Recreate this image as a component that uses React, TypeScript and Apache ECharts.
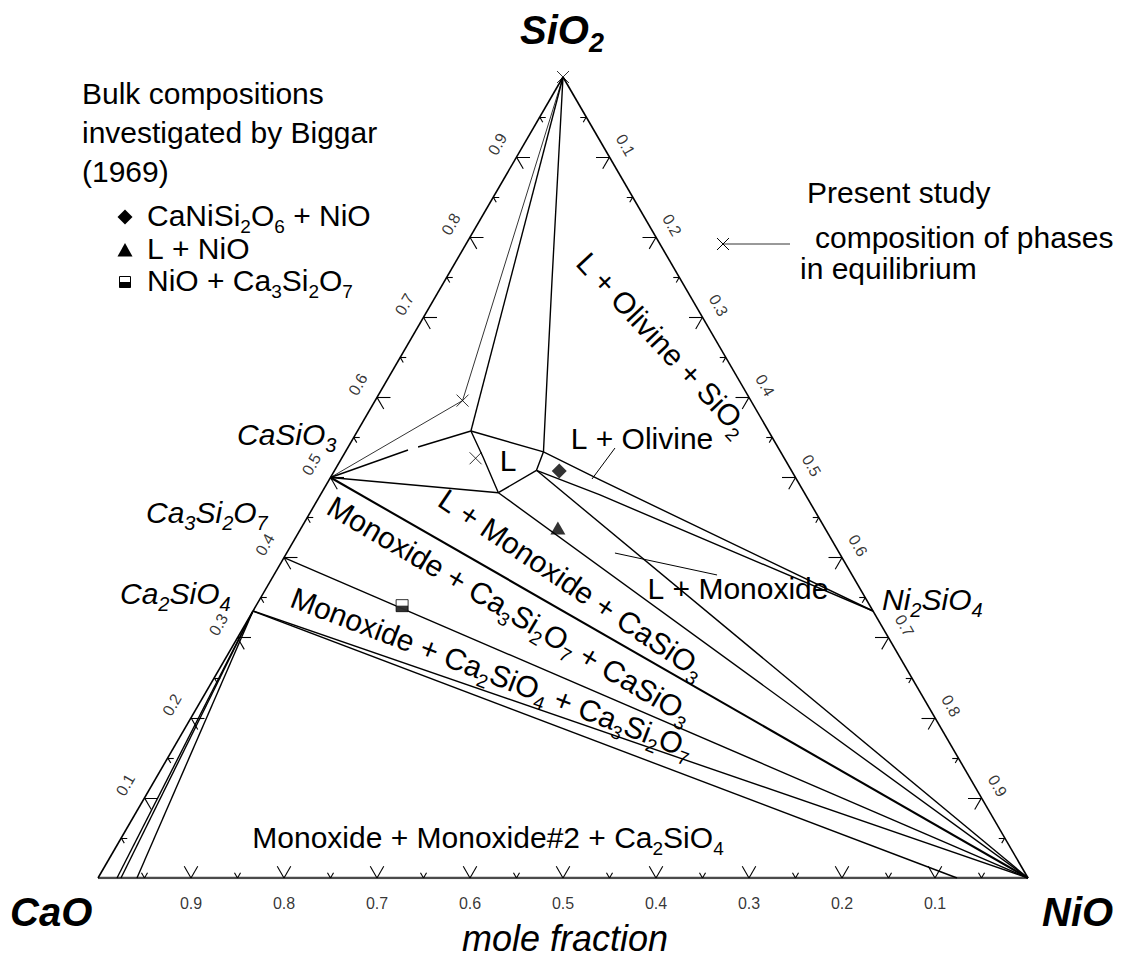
import React, { useEffect, useRef } from "react";
import * as echarts from "echarts";

type Comp = [number, number]; // [x(SiO2), x(NiO)] ; x(CaO) = 1 - x(SiO2) - x(NiO)

// ---------- end members / compounds ----------
const SIO2: Comp = [1, 0];
const CAO: Comp = [0, 0];
const NIO: Comp = [0, 1];
const CASIO3: Comp = [0.5, 0];
const CA3SI2O7: Comp = [0.4, 0];
const CA2SIO4: Comp = [1 / 3, 0];
const NI2SIO4: Comp = [1 / 3, 2 / 3];

// ---------- liquid field corners ----------
const LIQ_A: Comp = [0.558, 0.122];
const LIQ_C: Comp = [0.532, 0.213];
const LIQ_B: Comp = [0.509, 0.217];
const LIQ_D: Comp = [0.481, 0.19];

// ---------- measured phase compositions (present study, x) ----------
const measured: Comp[] = [SIO2, [0.596, 0.094], [0.524, 0.144]];

// ---------- Biggar (1969) bulk compositions ----------
const biggarDiamond: Comp[] = [[0.508, 0.242]];
const biggarTriangle: Comp[] = [[0.437, 0.276]];
const biggarSquare: Comp[] = [[0.34, 0.157]];

// ---------- phase boundaries / tie lines ----------
const thinTieLines: Comp[][] = [[SIO2, measured[1], CASIO3]];
const boundaryLines: Comp[][] = [
  [SIO2, LIQ_A],
  [SIO2, [0.7466, 0.1149], [0.6217, 0.1719], LIQ_C, LIQ_B],
  [LIQ_A, LIQ_C, [0.4969, 0.2914], NI2SIO4],
  [LIQ_B, [0.4782, 0.3007], NI2SIO4],
  [LIQ_B, NIO],
  [LIQ_D, NIO],
  [LIQ_A, [0.5256, 0.1512], LIQ_D],
  [LIQ_B, LIQ_D],
  [CASIO3, [0.5343, 0.0662]],
  [[0.5381, 0.0751], LIQ_A],
  [CASIO3, LIQ_D],
  [CA3SI2O7, NIO],
  [CA2SIO4, NIO],
  [CA2SIO4, [0, 0.9237]],
  [CA2SIO4, [0, 0.0204]],
  [CA2SIO4, [0, 0.0247]],
  [CA2SIO4, [0, 0.0419]],
];
const heavyLines: Comp[][] = [[CASIO3, NIO]];
const pointerLines: Comp[][] = [
  [[0.5368, 0.2875], [0.4981, 0.2821]],
  [[0.4057, 0.353], [0.3783, 0.4765]],
];
const sideEdges: Comp[][] = [[CAO, SIO2], [SIO2, NIO]];
const baseEdge: Comp[][] = [[CAO, NIO]];

// ---------- axis ticks ----------
const tickValues = [0.05, 0.1, 0.15, 0.2, 0.25, 0.3, 0.35, 0.4, 0.45, 0.5, 0.55, 0.6, 0.65, 0.7, 0.75, 0.8, 0.85, 0.9, 0.95];
const majorTickValues = [0.1, 0.2, 0.3, 0.4, 0.5, 0.6, 0.7, 0.8, 0.9];
const bottomTickLabels = ["0.9", "0.8", "0.7", "0.6", "0.5", "0.4", "0.3", "0.2", "0.1"];
const sideTickLabels = ["0.1", "0.2", "0.3", "0.4", "0.5", "0.6", "0.7", "0.8", "0.9"];

// ---------- layout ----------
const GRID = { left: 98, top: 77, width: 930, height: 801 };
const FONT = "'Liberation Sans', Arial, Helvetica, sans-serif";

const toXY = (c: Comp): [number, number] => [c[1] + c[0] / 2, c[0]];

function seg(p: [number, number], dir: [number, number], lenPx: number): [number, number][] {
  const pl = Math.hypot(dir[0] * GRID.width, dir[1] * GRID.height);
  const k = lenPx / pl;
  return [p, [p[0] + dir[0] * k, p[1] + dir[1] * k]];
}

const tickSegments: [number, number][][] = [];
tickValues.forEach((t) => {
  const len = majorTickValues.some((m) => Math.abs(m - t) < 1e-9) ? 13.5 : 6;
  const pb = toXY([0, t]);
  tickSegments.push(seg(pb, [0.5, 1], len), seg(pb, [-0.5, 1], len));
  const pl = toXY([t, 0]);
  tickSegments.push(seg(pl, [1, 0], len), seg(pl, [0.5, -1], len));
  const pr = toXY([1 - t, t]);
  tickSegments.push(seg(pr, [-1, 0], len), seg(pr, [-0.5, -1], len));
});

function linesSeries(paths: Comp[][], width: number, color = "#000", z = 3) {
  return {
    type: "lines",
    coordinateSystem: "cartesian2d",
    polyline: true,
    silent: true,
    z,
    lineStyle: { color, width, opacity: 1, curveness: 0 },
    data: paths.map((p) => ({ coords: p.map(toXY) })),
  };
}

function labelSeries(items: { value: [number, number]; name: string }[], rotate: number) {
  return {
    type: "scatter",
    symbolSize: 1,
    clip: false,
    silent: true,
    itemStyle: { color: "rgba(0,0,0,0)" },
    label: {
      show: true,
      position: "inside",
      formatter: "{b}",
      rotate,
      fontSize: 16,
      fontFamily: FONT,
      color: "#000",
    },
    data: items,
  };
}

function chemRich(src: string) {
  const parts = src.split(/_(\d)/);
  let out = "";
  parts.forEach((p, i) => {
    if (!p) return;
    out += i % 2 ? `{s|${p}}` : `{m|${p.replace(/ /g, "\u00a0")}}`;
  });
  return out;
}

function txt(
  src: string,
  x: number,
  y: number,
  o: { size?: number; sub?: number; shift?: number; italic?: boolean; bold?: boolean; align?: string; rot?: number } = {}
) {
  const size = o.size ?? 30;
  const sub = o.sub ?? Math.round(size * 0.64);
  const shift = o.shift ?? Math.round(size * 0.38);
  const base = {
    fontSize: size,
    fontFamily: FONT,
    fontStyle: o.italic ? "italic" : "normal",
    fontWeight: o.bold ? "bold" : "normal",
    fill: "#000",
  };
  return {
    type: "text",
    x,
    y,
    rotation: ((o.rot ?? 0) * Math.PI) / 180,
    silent: true,
    style: {
      ...base,
      text: chemRich(src),
      align: o.align ?? "center",
      verticalAlign: "middle",
      rich: {
        m: { ...base },
        s: { ...base, fontSize: sub, padding: [2 * shift, 0, 0, 0] },
      },
    },
  };
}

export default function App() {
  const ref = useRef<HTMLDivElement>(null);
  useEffect(() => {
    const chart = echarts.init(ref.current!, null, { renderer: "svg" });

    const bottomLabels = majorTickValues.map((t, i) => ({
      value: [t, -25 / GRID.height] as [number, number],
      name: bottomTickLabels[i],
    }));
    const leftLabels = majorTickValues.map((s, i) => {
      const p = toXY([s, 0]);
      return { value: [p[0] - 19 / GRID.width, p[1] + 13 / GRID.height] as [number, number], name: sideTickLabels[i] };
    });
    const rightLabels = majorTickValues.map((n, i) => {
      const p = toXY([1 - n, n]);
      return { value: [p[0] + 16 / GRID.width, p[1] + 12 / GRID.height] as [number, number], name: sideTickLabels[i] };
    });

    const option: any = {
      animation: false,
      backgroundColor: "#fff",
      grid: { ...GRID, outerBoundsMode: "none" },
      xAxis: { type: "value", min: 0, max: 1, show: false },
      yAxis: { type: "value", min: 0, max: 1, show: false },
      series: [
        linesSeries(baseEdge, 2.5, "#4a4a4a"),
        linesSeries(sideEdges, 1.6),
        {
          type: "lines",
          coordinateSystem: "cartesian2d",
          silent: true,
          z: 3,
          lineStyle: { color: "#000", width: 1.1, opacity: 1 },
          data: tickSegments.map((s) => ({ coords: s })),
        },
        linesSeries(boundaryLines, 1.4),
        linesSeries(heavyLines, 2.1),
        linesSeries(thinTieLines, 0.8),
        linesSeries(pointerLines, 1),
        {
          type: "scatter",
          silent: true,
          z: 5,
          symbol: "path://M0,0L10,10M10,0L0,10",
          symbolSize: 12,
          itemStyle: { color: "none", borderColor: "#000", borderWidth: 1 },
          data: measured.map(toXY),
        },
        {
          type: "scatter",
          silent: true,
          z: 5,
          symbol: "diamond",
          symbolSize: 15,
          itemStyle: { color: "#000" },
          data: biggarDiamond.map(toXY),
        },
        {
          type: "scatter",
          silent: true,
          z: 5,
          symbol: "triangle",
          symbolSize: [15, 13],
          itemStyle: { color: "#000" },
          data: biggarTriangle.map(toXY),
        },
        {
          type: "scatter",
          silent: true,
          z: 5,
          symbol: "rect",
          symbolSize: 12,
          itemStyle: { color: "#fff", borderColor: "#000", borderWidth: 1 },
          data: biggarSquare.map(toXY),
        },
        {
          type: "scatter",
          silent: true,
          z: 6,
          symbol: "rect",
          symbolSize: [12, 6],
          symbolOffset: [0, 3],
          itemStyle: { color: "#000" },
          data: biggarSquare.map(toXY),
        },
        labelSeries(bottomLabels, 0),
        labelSeries(leftLabels, 60),
        labelSeries(rightLabels, -60),
      ],
      graphic: [
        // vertex titles
        txt("SiO_2", 562, 30, { size: 40, sub: 27, shift: 13, italic: true, bold: true }),
        txt("CaO", 10, 912, { size: 40, italic: true, bold: true, align: "left" }),
        txt("NiO", 1042, 912, { size: 40, italic: true, bold: true, align: "left" }),
        txt("mole fraction", 565, 938, { size: 36, italic: true }),
        // compound labels
        txt("CaSiO_3", 237, 434, { size: 30, sub: 20, shift: 11, italic: true, align: "left" }),
        txt("Ca_3Si_2O_7", 146, 512, { size: 30, sub: 20, shift: 11, italic: true, align: "left" }),
        txt("Ca_2SiO_4", 120, 593, { size: 30, sub: 20, shift: 11, italic: true, align: "left" }),
        txt("Ni_2SiO_4", 882, 599, { size: 30, sub: 20, shift: 11, italic: true, align: "left" }),
        // phase field labels
        txt("L + Olivine + SiO_2", 663, 344, { rot: -47 }),
        txt("L + Olivine", 642, 438),
        txt("L", 508, 460),
        txt("L + Monoxide + CaSiO_3", 572, 584, { rot: -34 }),
        txt("Monoxide + Ca_3Si_2O_7 + CaSiO_3", 510, 610, { rot: -30.5 }),
        txt("Monoxide + Ca_2SiO_4 + Ca_3Si_2O_7", 492, 673, { rot: -21 }),
        txt("L + Monoxide", 738, 588),
        txt("Monoxide + Monoxide#2 + Ca_2SiO_4", 488, 837),
        // Biggar legend
        txt("Bulk compositions", 82, 93, { align: "left" }),
        txt("investigated by Biggar", 82, 132, { align: "left" }),
        txt("(1969)", 82, 171, { align: "left" }),
        txt("CaNiSi_2O_6 + NiO", 147, 215, { align: "left" }),
        txt("L + NiO", 147, 248, { align: "left" }),
        txt("NiO + Ca_3Si_2O_7", 147, 280, { align: "left" }),
        {
          type: "polygon",
          silent: true,
          shape: { points: [[125, 209.5], [132.5, 217], [125, 224.5], [117.5, 217]] },
          style: { fill: "#000" },
        },
        {
          type: "polygon",
          silent: true,
          shape: { points: [[125, 243], [132.5, 256.5], [117.5, 256.5]] },
          style: { fill: "#000" },
        },
        { type: "rect", silent: true, shape: { x: 119.5, y: 276.5, width: 11, height: 11 }, style: { fill: "#fff", stroke: "#000", lineWidth: 1 } },
        { type: "rect", silent: true, shape: { x: 119.5, y: 282, width: 11, height: 5.5 }, style: { fill: "#000" } },
        // present study legend
        txt("Present study", 807, 192, { align: "left" }),
        txt("composition of phases", 815, 237, { align: "left" }),
        txt("in equilibrium", 800, 268, { align: "left" }),
        { type: "line", silent: true, shape: { x1: 717, y1: 238, x2: 729, y2: 250 }, style: { stroke: "#000", lineWidth: 1 } },
        { type: "line", silent: true, shape: { x1: 717, y1: 250, x2: 729, y2: 238 }, style: { stroke: "#000", lineWidth: 1 } },
        { type: "line", silent: true, shape: { x1: 723, y1: 244, x2: 790, y2: 244 }, style: { stroke: "#000", lineWidth: 0.8 } },
      ],
    };
    chart.setOption(option);
    return () => chart.dispose();
  }, []);
  return (
    <div
      ref={ref}
      style={{ position: "absolute", left: 0, top: 0, width: 1137, height: 961, background: "#fff" }}
    />
  );
}
